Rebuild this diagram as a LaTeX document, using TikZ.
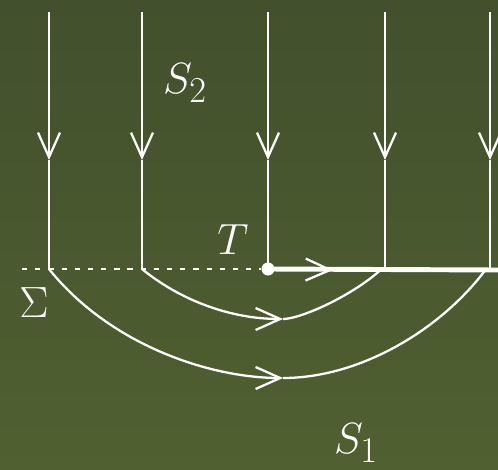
\documentclass[tikz,border=0pt]{standalone}
\usepackage{amsmath}
\usepackage{amssymb}
\usepackage{tikz}
\usetikzlibrary{arrows.meta, positioning, calc}
\definecolor{bgtop}{RGB}{66,80,45}
\definecolor{bgbottom}{RGB}{80,96,48}

\begin{document}
\begin{tikzpicture}[
    >={Straight Barb[length=14pt, width=12.5pt, line width=1.3pt]},
    wline/.style={draw=white, line width=1.3pt},
    thickline/.style={draw=white, line width=2.8pt},
    dotline/.style={draw=white, line width=1.4pt, dash pattern=on 3pt off 4.5pt},
    tdot/.style={circle, fill=white, inner sep=0pt, minimum size=0.26cm},
    lbl/.style={text=white, font=\Huge, inner sep=0pt},
]
    % background
    \shade[top color=bgtop, bottom color=bgbottom] (0,0) rectangle (9.96,-9.38);
    \useasboundingbox (0,0) rectangle (9.96,-9.38);

    % incoming lines of S_2
    \foreach \name/\x in {a/0.98, b/2.84, c/5.36, d/7.70, e/9.80} {
        \coordinate (top\name) at (\x,-0.24);
        \coordinate (mid\name) at (\x,-3.20);
        \coordinate (bot\name) at (\x,-5.38);
        \draw[wline, ->] (top\name) -- (mid\name);
        \draw[wline] (mid\name) -- (bot\name);
    }

    % Sigma and the cut T
    \node[tdot] (dot) at (botc) {};
    \coordinate (dashstart) at (0.44,-5.38);
    \coordinate (cutarrow) at (6.66,-5.40);
    \coordinate (rim) at (9.96,-5.40);
    \draw[dotline] (dashstart) -- (dot.west);
    \draw[thickline] (dot.center) -- (rim);
    \draw[wline, ->] (dot.center) -- (cutarrow);

    % lines of S_1
    \coordinate (inmid) at (5.66,-6.38);
    \coordinate (inend) at (7.60,-5.41);
    \coordinate (outmid) at (5.66,-7.56);
    \coordinate (outend) at (9.70,-5.41);
    \draw[wline, ->] (botb) .. controls (3.6,-6.0) and (4.6,-6.38) .. (inmid);
    \draw[wline] (inmid) .. controls (6.0,-6.38) and (7.0,-5.94) .. (inend);
    \draw[wline, ->] (bota) .. controls (2.2,-6.9) and (4.2,-7.56) .. (outmid);
    \draw[wline] (outmid) .. controls (7.2,-7.56) and (8.8,-6.6) .. (outend);

    \node[lbl] (labS2) at (3.70,-1.66) {$S_2$};
    \node[lbl] (labT) at (4.66,-4.80) {$T$};
    \node[lbl] (labSigma) at (0.68,-6.06) {$\Sigma$};
    \node[lbl] (labS1) at (7.12,-8.86) {$S_1$};
\end{tikzpicture}
\end{document}
